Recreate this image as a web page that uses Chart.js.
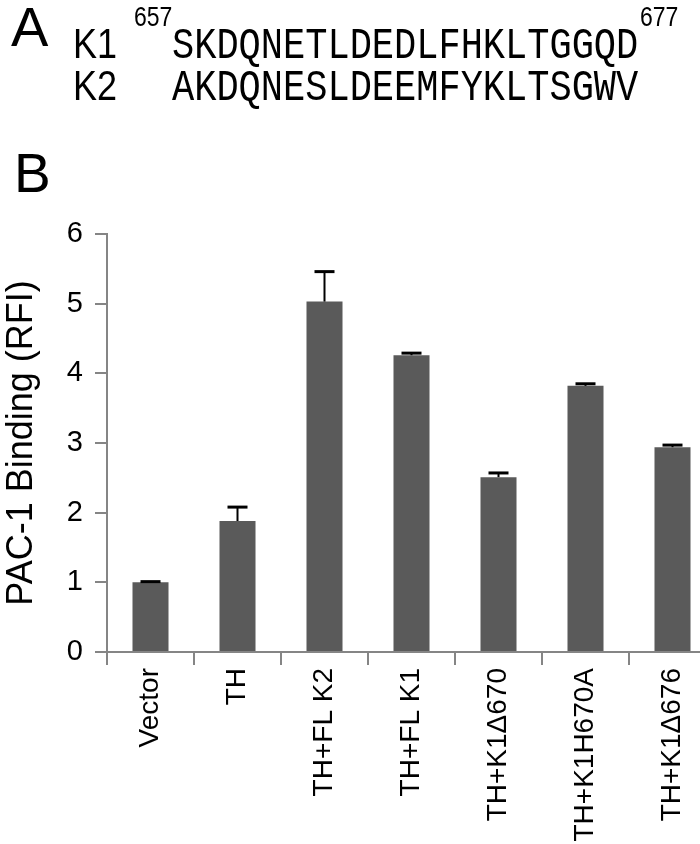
<!DOCTYPE html>
<html>
<head>
<meta charset="utf-8">
<script src="https://cdn.jsdelivr.net/npm/chart.js@4"></script>
<style>
  html, body { margin: 0; padding: 0; background: #fff; width: 700px; height: 844px; overflow: hidden; }
  .t { position: absolute; line-height: 1; white-space: pre; color: #000; font-family: "Liberation Sans", Arial, sans-serif;
       transform-origin: 0 84.65%; }
  .mono { font-family: "Liberation Mono", "Courier New", monospace; transform-origin: 0 76.65%; }
  .tall { transform: scaleY(1.2); }
  #wrap { position: absolute; left: 0; top: 0; width: 720px; height: 844px; }
</style>
</head>
<body>
<div id="wrap"><canvas id="chart" width="720" height="844"></canvas></div>

<div class="t" style="left:11px; top:-1px; font-size:56px;">A</div>
<div class="t tall" style="left:73px; top:28px; font-size:36px;">K1</div>
<div class="t tall" style="left:134px; top:7px; font-size:23px;">657</div>
<div class="t mono tall" style="left:172px; top:30px; font-size:37px;">SKDQNETLDEDLFHKLTGGQD</div>
<div class="t tall" style="left:640px; top:7px; font-size:23px;">677</div>
<div class="t tall" style="left:73px; top:70px; font-size:36px;">K2</div>
<div class="t mono tall" style="left:172px; top:72px; font-size:37px;">AKDQNESLDEEMFYKLTSGWV</div>
<div class="t" style="left:14px; top:146px; font-size:55px;">B</div>

<script>
const labels = ['Vector', 'TH', 'TH+FL K2', 'TH+FL K1', 'TH+K1\u0394670', 'TH+K1H670A', 'TH+K1\u0394676'];
const values = [1.00, 1.88, 5.03, 4.26, 2.51, 3.82, 2.94];
const errors = [0.01, 0.20, 0.43, 0.03, 0.06, 0.03, 0.03];
const yTicks = [0, 1, 2, 3, 4, 5, 6];

// draws the upper half of each error bar (stem + cap)
const errorBars = {
    id: 'errorBars',
    afterDatasetsDraw(chart) {
        const ctx = chart.ctx;
        const y = chart.scales.y;
        const bars = chart.getDatasetMeta(0).data;
        ctx.save();
        ctx.strokeStyle = '#000';
        bars.forEach((bar, i) => {
            const top = y.getPixelForValue(values[i] + errors[i]);
            ctx.lineWidth = 2;
            ctx.beginPath();
            ctx.moveTo(bar.x, bar.y);
            ctx.lineTo(bar.x, top);
            ctx.stroke();
            ctx.lineWidth = 3;
            ctx.beginPath();
            ctx.moveTo(bar.x - 10, top);
            ctx.lineTo(bar.x + 10, top);
            ctx.stroke();
        });
        ctx.restore();
    }
};

const axisGray = '#858585';

new Chart(document.getElementById('chart'), {
    type: 'bar',
    data: {
        labels: labels,
        datasets: [{
            data: values,
            backgroundColor: '#5a5a5a',
            borderWidth: 0,
            barPercentage: 0.414,
            categoryPercentage: 1
        }]
    },
    options: {
        responsive: false,
        animation: false,
        layout: { padding: { top: 234, right: 4, bottom: 0, left: 0 } },
        plugins: { legend: { display: false }, tooltip: { enabled: false } },
        scales: {
            x: {
                border: { color: axisGray, width: 2 },
                grid: { display: true, drawOnChartArea: false, drawTicks: true, tickLength: 13, color: axisGray, lineWidth: 2, offset: true },
                ticks: {
                    color: '#000',
                    font: { family: '"Liberation Sans", Arial, sans-serif', size: 28 },
                    minRotation: 90,
                    maxRotation: 90,
                    autoSkip: false,
                    padding: 3
                },
                afterFit(scale) { scale.height = 192; }
            },
            y: {
                min: 0,
                max: 6,
                border: { color: axisGray, width: 2 },
                grid: { display: true, drawOnChartArea: false, drawTicks: true, tickLength: 12, color: axisGray, lineWidth: 2 },
                afterBuildTicks(scale) { scale.ticks = yTicks.map(v => ({ value: v })); },
                ticks: {
                    color: '#000',
                    font: { family: '"Liberation Sans", Arial, sans-serif', size: 29 },
                    padding: 12
                },
                title: {
                    display: true,
                    text: 'PAC-1 Binding (RFI)',
                    color: '#000',
                    font: { family: '"Liberation Sans", Arial, sans-serif', size: 36 },
                    padding: { top: 0, bottom: 0 }
                },
                afterFit(scale) { scale.width = 107; }
            }
        }
    },
    plugins: [errorBars]
});
</script>
</body>
</html>
